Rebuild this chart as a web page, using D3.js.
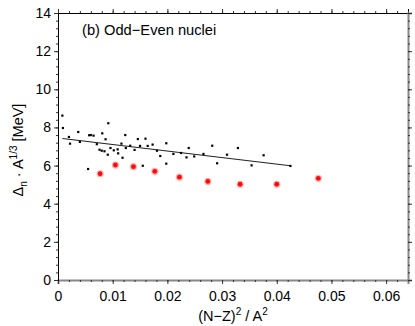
<!DOCTYPE html>
<html>
<head>
<meta charset="utf-8">
<script src="https://cdn.jsdelivr.net/npm/d3@7"></script>
<style>
  body { margin: 0; background: #fff; }
  text { font-family: "Liberation Sans", Arial, sans-serif; fill: #000; }
</style>
</head>
<body>
<script>
// odd-even nuclei, black points (x = (N-Z)^2/A^2, y = gap * A^1/3)
var blackX = [0.0008, 0.0009, 0.0020, 0.0022, 0.0037, 0.0040, 0.0055, 0.0057, 0.0060, 0.0065,
              0.0071, 0.0076, 0.0081, 0.0080, 0.0085, 0.0087, 0.0091, 0.0092, 0.0096, 0.0102,
              0.0109, 0.0110, 0.0116, 0.0118, 0.0123, 0.0124, 0.0132, 0.0140, 0.0146, 0.0150,
              0.0155, 0.0160, 0.0164, 0.0173, 0.0181, 0.0187, 0.0198, 0.0198, 0.0211, 0.0225,
              0.0235, 0.0239, 0.0249, 0.0266, 0.0282, 0.0291, 0.0309, 0.0329, 0.0354, 0.0376,
              0.0425];
var blackY = [8.62, 7.97, 7.50, 7.15, 7.76, 7.24, 5.82, 7.59, 7.60, 7.57,
              7.12, 6.83, 7.69, 6.78, 6.75, 7.38, 6.57, 8.22, 6.92, 6.80,
              6.85, 6.64, 7.15, 6.41, 7.60, 6.92, 7.04, 6.82, 7.39, 7.03,
              5.99, 7.41, 7.03, 7.10, 6.78, 6.50, 7.17, 6.10, 6.61, 6.66,
              6.43, 6.92, 6.48, 6.61, 7.04, 6.12, 6.57, 6.92, 6.01, 6.54,
              5.98];
// red points
var redX = [0.0077, 0.0105, 0.0138, 0.0177, 0.0222, 0.0274, 0.0333, 0.0400, 0.0476];
var redY = [5.57, 6.03, 5.94, 5.70, 5.39, 5.17, 5.02, 5.02, 5.33];
// fit line end points
var fitX = [0.0008, 0.0425];
var fitY = [7.42, 5.99];

var xTicks = [0, 0.01, 0.02, 0.03, 0.04, 0.05, 0.06];
var yTicks = [0, 2, 4, 6, 8, 10, 12, 14];

var width = 415, height = 326;
var margin = {top: 13, right: 7, bottom: 46, left: 58};

var svg = d3.select("body").append("svg")
    .attr("width", width)
    .attr("height", height);

var x = d3.scaleLinear().domain([0, 0.064]).range([margin.left, width - margin.right]);
var y = d3.scaleLinear().domain([0, 14]).range([height - margin.bottom, margin.top]);

var xMinor = d3.range(0, 0.0641, 0.002);
var yMinor = d3.range(0, 14.01, 0.4);

// frame: left/top black, bottom/right grey
function fmtX(d) { return d === 0 ? "0" : d3.format(".2f")(d); }

var gb = svg.append("g").attr("transform", `translate(0,${y(0)})`)
  .call(d3.axisBottom(x).tickValues(xTicks).tickFormat(fmtX).tickSize(4).tickPadding(7));
svg.append("g").attr("transform", `translate(0,${y(0)})`)
  .call(d3.axisBottom(x).tickValues(xMinor).tickFormat("").tickSize(2))
  .call(g => g.select(".domain").remove());

var gt = svg.append("g").attr("transform", `translate(0,${y(14)})`)
  .call(d3.axisTop(x).tickValues(xTicks).tickFormat("").tickSize(4));
svg.append("g").attr("transform", `translate(0,${y(14)})`)
  .call(d3.axisTop(x).tickValues(xMinor).tickFormat("").tickSize(2))
  .call(g => g.select(".domain").remove());

var gl = svg.append("g").attr("transform", `translate(${x(0)},0)`)
  .call(d3.axisLeft(y).tickValues(yTicks).tickSize(4).tickPadding(3));
svg.append("g").attr("transform", `translate(${x(0)},0)`)
  .call(d3.axisLeft(y).tickValues(yMinor).tickFormat("").tickSize(2))
  .call(g => g.select(".domain").remove());

var gr = svg.append("g").attr("transform", `translate(${x(0.064)},0)`)
  .call(d3.axisRight(y).tickValues(yTicks).tickFormat("").tickSize(4));
svg.append("g").attr("transform", `translate(${x(0.064)},0)`)
  .call(d3.axisRight(y).tickValues(yMinor).tickFormat("").tickSize(2))
  .call(g => g.select(".domain").remove());

svg.selectAll(".domain").attr("stroke", "#000");
gb.select(".domain").attr("stroke", "#888").attr("stroke-width", 2);
gr.select(".domain").attr("stroke", "#888").attr("stroke-width", 2);
svg.selectAll(".tick line").attr("stroke", "#333");
svg.selectAll(".tick text").style("font-size", "14px")
  .style("font-family", "'Liberation Sans', Arial, sans-serif");

// fit line
svg.append("line")
  .attr("x1", x(fitX[0])).attr("y1", y(fitY[0]))
  .attr("x2", x(fitX[1])).attr("y2", y(fitY[1]))
  .attr("stroke", "#222").attr("stroke-width", 1.1);

// black points
svg.append("g").selectAll("rect")
  .data(d3.range(blackX.length))
  .enter().append("rect")
  .attr("x", i => x(blackX[i]) - 1.1)
  .attr("y", i => y(blackY[i]) - 1.1)
  .attr("width", 2.2).attr("height", 2.2)
  .attr("fill", "#000");

// red points with soft halo
var red = svg.append("g").selectAll("g")
  .data(d3.range(redX.length))
  .enter().append("g")
  .attr("transform", i => `translate(${x(redX[i])},${y(redY[i])})`);
red.append("circle").attr("r", 3.6).attr("fill", "#ff0000").attr("opacity", 0.3);
red.append("circle").attr("r", 2.4).attr("fill", "#ff0a0a");

// panel label
svg.append("text")
  .attr("x", 82).attr("y", 35)
  .style("font-size", "14.7px")
  .text("(b) Odd\u2212Even nuclei");

// y label
var yl = svg.append("text")
  .attr("transform", "translate(23,150) rotate(-90)")
  .attr("text-anchor", "middle")
  .style("font-size", "14.5px");
yl.append("tspan").text("\u0394");
yl.append("tspan").attr("dy", 4).style("font-size", "10px").text("n");
yl.append("tspan").attr("dy", -4).text(" \u00b7 A");
yl.append("tspan").attr("dy", -6).style("font-size", "10px").text("1/3");
yl.append("tspan").attr("dy", 6).text(" [MeV]");

// x label
var xl = svg.append("text")
  .attr("x", 233).attr("y", 321)
  .attr("text-anchor", "middle")
  .style("font-size", "14.5px");
xl.append("tspan").text("(N\u2212Z)");
xl.append("tspan").attr("dy", -6).style("font-size", "10px").text("2");
xl.append("tspan").attr("dy", 6).text(" / A");
xl.append("tspan").attr("dy", -6).style("font-size", "10px").text("2");
</script>
</body>
</html>
